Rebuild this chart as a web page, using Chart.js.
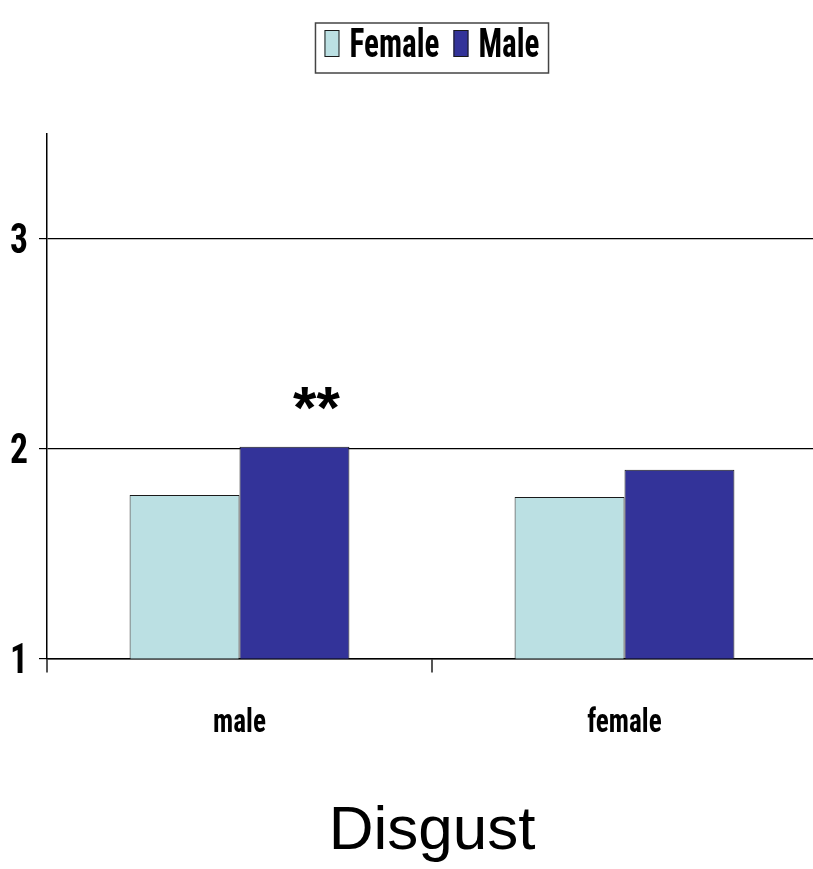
<!DOCTYPE html>
<html>
<head>
<meta charset="utf-8">
<script src="https://cdn.jsdelivr.net/npm/chart.js@4.4.0/dist/chart.umd.min.js"></script>
<style>
  html, body { margin: 0; padding: 0; background: #fff; overflow: hidden }
  #wrap { width: 817px; height: 869px }
</style>
</head>
<body>
<div id="wrap"><canvas id="chart"></canvas></div>
<script>
const categories = ['male', 'female']
const femaleValues = [1.78, 1.77]
const maleValues = [2.01, 1.9]
const yTicks = [1, 2, 3]
const marks = ['**', '']

const plain = "'Liberation Sans', Arial, sans-serif"
const SQUEEZE = 0.8

// bold, tall and narrow text like the original Arial Narrow labels
function narrowText (ctx, text, x, y, size, align, squeeze) {
  ctx.save()
  ctx.font = `bold condensed ${size}px Roboto, sans-serif`
  ctx.fillStyle = '#000'
  ctx.textBaseline = 'alphabetic'
  ctx.textAlign = align
  ctx.translate(x, y)
  ctx.scale(squeeze, 1)
  ctx.fillText(text, 0, 0)
  ctx.restore()
}

function narrowWidth (ctx, text, size, squeeze) {
  ctx.save()
  ctx.font = `bold condensed ${size}px Roboto, sans-serif`
  const w = ctx.measureText(text).width * squeeze
  ctx.restore()
  return w
}

// tick labels for both axes
const axisLabels = {
  id: 'axisLabels',
  afterDraw (chart) {
    const { ctx, scales: { x, y }, chartArea } = chart
    yTicks.forEach(v => {
      narrowText(ctx, String(v), chartArea.left - 19, y.getPixelForValue(v) + 14, 42, 'right', 0.85)
    })
    categories.forEach((c, i) => {
      narrowText(ctx, c, x.getPixelForTick(i), x.top + 73, 34, 'center', SQUEEZE)
    })
  }
}

// boxed legend above the plot
const boxedLegend = {
  id: 'boxedLegend',
  afterDraw (chart) {
    const { ctx, chartArea } = chart
    const size = 41
    const squeeze = 0.76
    const items = chart.data.datasets.map(ds => ({
      label: ds.label,
      fill: ds.backgroundColor,
      width: narrowWidth(ctx, ds.label, size, squeeze)
    }))
    const sw = 15
    const gapText = 10
    const gapItem = 14
    const pad = 9
    let total = pad * 2
    items.forEach((it, i) => {
      total += sw + gapText + it.width + (i ? gapItem : 0)
    })
    const top = 23
    const left = (chartArea.left + chartArea.right) / 2 - total / 2
    ctx.save()
    ctx.fillStyle = '#fff'
    ctx.fillRect(left, top, total, 50)
    ctx.strokeStyle = '#444'
    ctx.lineWidth = 1.5
    ctx.strokeRect(left, top, total, 50)
    let cx = left + pad
    items.forEach((it, i) => {
      if (i) cx += gapItem
      ctx.fillStyle = it.fill
      ctx.fillRect(cx, top + 7, sw, 27)
      ctx.strokeStyle = '#1a1a1a'
      ctx.lineWidth = 1
      ctx.strokeRect(cx + 0.5, top + 7.5, sw - 1, 26)
      cx += sw + gapText
      narrowText(ctx, it.label, cx, top + 34, size, 'left', squeeze)
      cx += it.width
    })
    ctx.restore()
  }
}

// significance stars above the bars
const starMarks = {
  id: 'starMarks',
  afterDatasetsDraw (chart) {
    const meta = chart.getDatasetMeta(1)
    const ctx = chart.ctx
    ctx.save()
    ctx.font = 'bold 60px ' + plain
    ctx.fillStyle = '#000'
    ctx.textAlign = 'center'
    ctx.textBaseline = 'alphabetic'
    marks.forEach((m, i) => {
      if (!m) return
      const bar = meta.data[i]
      ctx.fillText(m, bar.x + 22, bar.y - 19)
    })
    ctx.restore()
  }
}

new Chart(document.getElementById('chart'), {
  type: 'bar',
  plugins: [axisLabels, boxedLegend, starMarks],
  data: {
    labels: categories,
    datasets: [
      {
        label: 'Female',
        data: femaleValues,
        backgroundColor: '#BBE0E3',
        borderColor: '#1a1a1a',
        borderWidth: 1,
        barPercentage: 1,
        categoryPercentage: 0.571
      },
      {
        label: 'Male',
        data: maleValues,
        backgroundColor: '#333399',
        borderColor: '#1a1a1a',
        borderWidth: 1,
        barPercentage: 1,
        categoryPercentage: 0.571
      }
    ]
  },
  options: {
    responsive: true,
    maintainAspectRatio: false,
    animation: false,
    layout: { padding: { top: 134, left: 0, right: 0, bottom: 0 } },
    plugins: {
      tooltip: { enabled: false },
      legend: { display: false },
      title: {
        display: true,
        text: 'Disgust',
        position: 'bottom',
        fullSize: false,
        color: '#000',
        font: { family: plain, size: 62, weight: 'normal' },
        padding: { top: 8, bottom: 0 }
      }
    },
    scales: {
      x: {
        offset: true,
        grid: {
          offset: true,
          drawOnChartArea: false,
          tickLength: 14,
          color: '#555',
          lineWidth: 2
        },
        border: { color: '#000', width: 1.5 },
        ticks: { display: false },
        afterFit (scale) { scale.height = 128 }
      },
      y: {
        min: 1,
        max: 3.5,
        afterBuildTicks (scale) {
          scale.ticks = yTicks.map(v => ({ value: v }))
        },
        grid: { color: '#000', tickLength: 8, lineWidth: 1.2 },
        border: { color: '#000', width: 1.5 },
        ticks: { display: false },
        afterFit (scale) { scale.width = 47 }
      }
    }
  }
})
</script>
</body>
</html>
